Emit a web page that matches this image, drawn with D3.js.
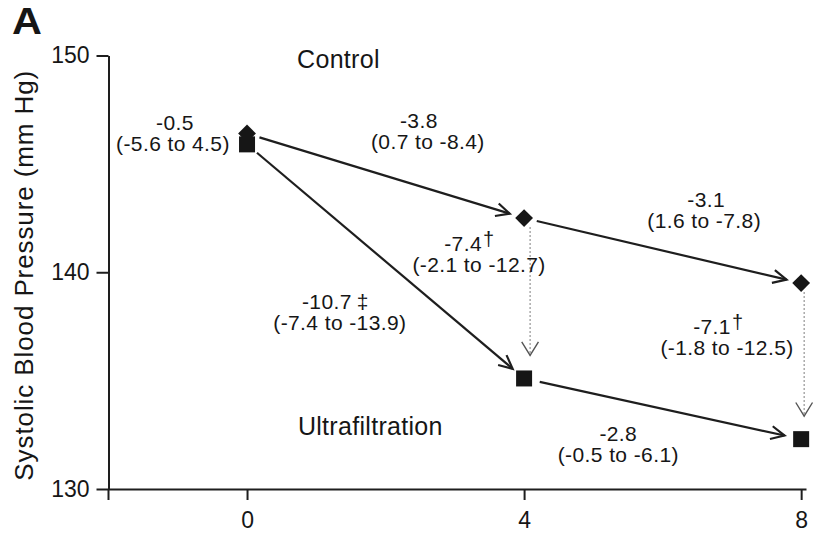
<!DOCTYPE html>
<html><head><meta charset="utf-8">
<script src="https://cdn.jsdelivr.net/npm/d3@7"></script>
<style>
body{margin:0;background:#fff}
text{font-family:"Liberation Sans",Arial,Helvetica,sans-serif;fill:#161616}
</style></head>
<body><svg id="chart" width="814" height="534"></svg>
<script>
// ---------------- data ----------------
const weeks = [0, 4, 8];
const xTickValues = [0, 4, 8];
const yTickValues = [130, 140, 150];
const controlSBP = [146.4, 142.5, 139.5];
const ultrafiltrationSBP = [145.9, 135.1, 132.3];
const groupNames = ["Control", "Ultrafiltration"];
const yAxisTitle = "Systolic Blood Pressure (mm Hg)";
const panelLetter = "A";
// change annotations: main value, significance mark, CI text
const changeValues = ["-0.5", "-3.8", "-3.1", "-10.7", "-2.8", "-7.4", "-7.1"];
const changeMarks  = ["", "", "", "\u2021", "", "\u2020", "\u2020"];
const changeCIs    = ["(-5.6 to 4.5)", "(0.7 to -8.4)", "(1.6 to -7.8)", "(-7.4 to -13.9)",
                      "(-0.5 to -6.1)", "(-2.1 to -12.7)", "(-1.8 to -12.5)"];

// ---------------- layout (positions in data units) ----------------
const changeLabelAnchors = [[-1.07,145.59],[2.61,145.69],[6.60,142.04],[1.34,137.34],[5.36,131.25],[3.35,140.01],[6.93,136.18]];
const changeLabelLine1Dx = [2, -9, 2, -13, 0, -16, -15];
const groupLabelAnchors = [[1.32,149.42],[1.78,132.49]];

const svg = d3.select("#chart");
const x = d3.scaleLinear().domain([-2, 8.07]).range([108.5, 806]);
const y = d3.scaleLinear().domain([130, 150]).range([489, 55.5]);
const ink = "#1e1e1e";

// ---------------- axes ----------------
const xAxis = svg.append("g").attr("transform", `translate(0,${y(130)})`)
  .call(d3.axisBottom(x).tickValues(xTickValues).tickSize(11).tickSizeOuter(0).tickPadding(12).tickFormat(d3.format("d")));
const yAxis = svg.append("g").attr("transform", `translate(${x(-2)},0)`)
  .call(d3.axisLeft(y).tickValues(yTickValues).tickSize(12).tickSizeOuter(0).tickPadding(7).tickFormat(d3.format("d")));
[xAxis, yAxis].forEach(a => {
  a.selectAll("path.domain").attr("stroke", ink).attr("stroke-width", 2);
  a.selectAll(".tick line").attr("stroke", ink).attr("stroke-width", 2);
  a.selectAll(".tick text").attr("fill", "#161616").style("font-size", "23px")
    .style("font-family", '"Liberation Sans",Arial,sans-serif');
});
svg.append("line").attr("x1", x(-2)).attr("x2", x(-2)).attr("y1", y(130)).attr("y2", y(130) + 11)
  .attr("stroke", ink).attr("stroke-width", 2);

svg.append("text").attr("transform", `translate(33,${(y(150)+y(130))/2 + 3}) rotate(-90)`)
  .attr("text-anchor", "middle").style("font-size", "26px").style("letter-spacing", "0.9px")
  .text(yAxisTitle);

svg.append("text").attr("transform", "translate(12,34) scale(1.12,1)").style("font-size", "37px").style("font-weight", "bold")
  .attr("fill", "#111").text(panelLetter);

// ---------------- arrows ----------------
function arrowHead(g, tx, ty, ux, uy, len, ang, color, sw) {
  const c = Math.cos(ang), s = Math.sin(ang);
  const bx1 = -(ux * c - uy * s) * len, by1 = -(ux * s + uy * c) * len;
  const bx2 = -(ux * c + uy * s) * len, by2 = -(-ux * s + uy * c) * len;
  g.append("path").attr("d", `M${tx+bx1},${ty+by1}L${tx},${ty}L${tx+bx2},${ty+by2}`)
    .attr("fill", "none").attr("stroke", color).attr("stroke-width", sw)
    .attr("stroke-linejoin", "miter");
}
function arrow(x1, y1, x2, y2, gapStart, gapEnd, opts) {
  const dx = x2 - x1, dy = y2 - y1, L = Math.hypot(dx, dy), ux = dx / L, uy = dy / L;
  const sx = x1 + ux * gapStart, sy = y1 + uy * gapStart;
  const ex = x2 - ux * gapEnd, ey = y2 - uy * gapEnd;
  const g = svg.append("g");
  g.append("line").attr("x1", sx).attr("y1", sy).attr("x2", ex).attr("y2", ey)
    .attr("stroke", opts.color).attr("stroke-width", opts.width)
    .attr("stroke-dasharray", opts.dash || null);
  arrowHead(g, ex, ey, ux, uy, opts.headLen, opts.headAng, opts.headColor || opts.color, opts.headWidth || opts.width);
}
const solid = {color: "#1e1e1e", width: 2.2, headLen: 15, headAng: 0.45};
const dotted = {color: "#8a8a8a", width: 1.1, dash: "2,2", headLen: 16, headAng: 0.55, headColor: "#555", headWidth: 1.4};

[controlSBP, ultrafiltrationSBP].forEach((series, si) => {
  for (let i = 0; i < weeks.length - 1; i++) {
    arrow(x(weeks[i]), y(series[i]), x(weeks[i+1]), y(series[i+1]),
          si === 1 && i === 1 ? 16 : 13, si === 1 && i === 1 ? 17 : 15, solid);
  }
});
const dottedOffsets = [0, 6, 3];
for (let i = 1; i < weeks.length; i++) {
  const xx = x(weeks[i]) + dottedOffsets[i];
  arrow(xx, y(controlSBP[i]), xx, y(ultrafiltrationSBP[i]), 9, 23, dotted);
}

// ---------------- markers ----------------
svg.append("g").selectAll("rect").data(weeks).join("rect")
  .attr("x", -6.3).attr("y", -6.3).attr("width", 12.6).attr("height", 12.6)
  .attr("transform", (d, i) => `translate(${x(d)},${y(controlSBP[i])}) rotate(45)`)
  .attr("fill", "#161616");
svg.append("g").selectAll("rect").data(weeks).join("rect")
  .attr("x", d => x(d) - 8).attr("y", (d, i) => y(ultrafiltrationSBP[i]) - 8)
  .attr("width", 16).attr("height", 16).attr("fill", "#161616");

// ---------------- text labels ----------------
groupNames.forEach((name, i) => {
  svg.append("text").attr("x", x(groupLabelAnchors[i][0])).attr("y", y(groupLabelAnchors[i][1]))
    .attr("text-anchor", "middle").style("font-size", "25px").style("letter-spacing", "0.3px").text(name);
});

changeValues.forEach((v, i) => {
  const g = svg.append("g").attr("transform", `translate(${x(changeLabelAnchors[i][0])},${y(changeLabelAnchors[i][1])})`);
  g.append("text").attr("x", 0).attr("y", 0).attr("text-anchor", "middle")
    .style("font-size", "21px").style("letter-spacing", "0.4px").text(changeCIs[i]);
  const t1 = g.append("text").attr("x", changeLabelLine1Dx[i]).attr("y", -21).attr("text-anchor", "middle")
    .style("font-size", "21px").style("letter-spacing", "0.4px").text(v);
  if (changeMarks[i]) {
    const w = t1.node().getComputedTextLength();
    const isDouble = changeMarks[i] === "\u2021";
    g.append("text").attr("x", changeLabelLine1Dx[i] + w / 2 + (isDouble ? 5 : 1))
      .attr("y", isDouble ? -21 : -26).style("font-size", isDouble ? "21px" : "20px")
      .text(changeMarks[i]);
  }
});
</script></body></html>
